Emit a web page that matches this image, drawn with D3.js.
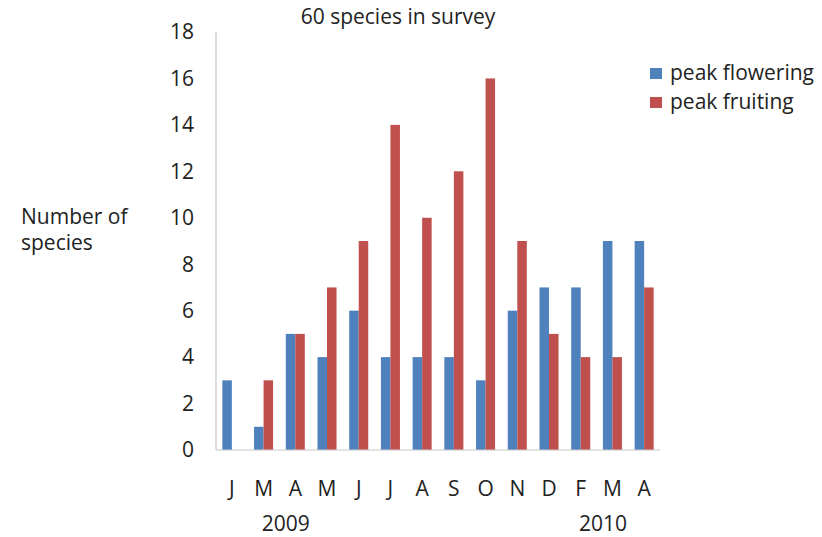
<!DOCTYPE html>
<html>
<head>
<meta charset="utf-8">
<script src="https://cdn.jsdelivr.net/npm/d3@7"></script>
<style>
  html, body { margin: 0; padding: 0; background: #fff; }
  text { font-family: "Open Sans", "Noto Sans", sans-serif; fill: #222; }
</style>
</head>
<body>
<svg id="chart" width="822" height="537"></svg>
<script>
// Months from January 2009 to April 2010
const months = ["J", "M", "A", "M", "J", "J", "A", "S", "O", "N", "D", "F", "M", "A"];
const flowering = [3, 1, 5, 4, 6, 4, 4, 4, 3, 6, 7, 7, 9, 9];
const fruiting = [0, 3, 5, 7, 9, 14, 10, 12, 16, 9, 5, 4, 4, 7];
const seriesNames = ["peak flowering", "peak fruiting"];
const seriesColors = ["#4F81BD", "#C0504D"];
const yTicks = [0, 2, 4, 6, 8, 10, 12, 14, 16, 18];
const yearLabels = [{ year: "2009", at: 2 }, { year: "2010", at: 12 }];

const svg = d3.select("#chart");
const plotLeft = 216, plotRight = 660, plotTop = 32, plotBottom = 450;
const fontSize = 21;

const x = d3.scaleBand().domain(d3.range(months.length)).range([plotLeft, plotRight]).paddingInner(0.4).paddingOuter(0.2);
const xSub = d3.scaleBand().domain([0, 1]).range([0, x.bandwidth()]);
const y = d3.scaleLinear().domain([0, 18]).range([plotBottom, plotTop]);

// Bars
const series = [flowering, fruiting];
series.forEach((vals, s) => {
  svg.append("g").selectAll("rect").data(vals).join("rect")
    .attr("x", (d, i) => x(i) + xSub(s))
    .attr("y", d => y(d))
    .attr("width", xSub.bandwidth())
    .attr("height", d => y(0) - y(d))
    .attr("fill", seriesColors[s]);
});

// Axis lines
svg.append("line").attr("x1", plotLeft).attr("x2", plotLeft).attr("y1", y(18)).attr("y2", y(0))
  .attr("stroke", "#c8c8c8").attr("stroke-width", 1.2);
svg.append("line").attr("x1", plotLeft).attr("x2", plotRight).attr("y1", y(0)).attr("y2", y(0))
  .attr("stroke", "#c8c8c8").attr("stroke-width", 1.2);

// Y tick labels
svg.append("g").selectAll("text").data(yTicks).join("text")
  .attr("x", 194).attr("y", d => y(d)).attr("dy", "0.35em")
  .attr("text-anchor", "end").attr("font-size", fontSize).text(d => d);

// Month labels
svg.append("g").selectAll("text").data(months).join("text")
  .attr("x", (d, i) => x(i) + x.bandwidth() / 2).attr("y", 496)
  .attr("text-anchor", "middle").attr("font-size", fontSize).text(d => d);

// Year labels
svg.append("g").selectAll("text").data(yearLabels).join("text")
  .attr("x", d => x(d.at)).attr("y", 531)
  .attr("text-anchor", "middle").attr("font-size", fontSize).text(d => d.year);

// Title
svg.append("text").attr("x", 398).attr("y", 24).attr("text-anchor", "middle")
  .attr("font-size", fontSize).text("60 species in survey");

// Y axis title
svg.append("text").attr("x", 21).attr("y", 224).attr("font-size", fontSize).text("Number of");
svg.append("text").attr("x", 21).attr("y", 250).attr("font-size", fontSize).text("species");

// Legend
const legend = svg.append("g").selectAll("g").data(seriesNames).join("g")
  .attr("transform", (d, i) => `translate(650, ${68 + i * 29})`);
legend.append("rect").attr("width", 12).attr("height", 11).attr("fill", (d, i) => seriesColors[i]);
legend.append("text").attr("x", 20).attr("y", 5).attr("dy", "0.35em").attr("font-size", fontSize).text(d => d);
</script>
</body>
</html>
